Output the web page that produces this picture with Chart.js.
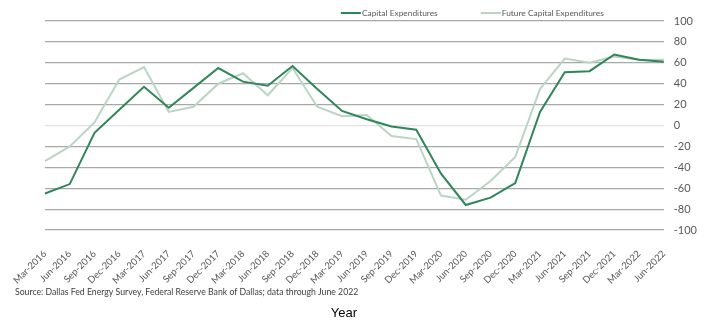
<!DOCTYPE html>
<html>
<head>
<meta charset="utf-8">
<script src="https://cdn.jsdelivr.net/npm/chart.js@4"></script>
<style>
  body { margin: 0; background: #fff; }
  #wrap { width: 711px; height: 322px; position: relative; }
</style>
</head>
<body>
<div id="wrap"><canvas id="chart"></canvas></div>
<script>
// quarterly survey dates
const quarters = ['Mar-2016', 'Jun-2016', 'Sep-2016', 'Dec-2016', 'Mar-2017', 'Jun-2017', 'Sep-2017', 'Dec-2017',
  'Mar-2018', 'Jun-2018', 'Sep-2018', 'Dec-2018', 'Mar-2019', 'Jun-2019', 'Sep-2019', 'Dec-2019',
  'Mar-2020', 'Jun-2020', 'Sep-2020', 'Dec-2020', 'Mar-2021', 'Jun-2021', 'Sep-2021', 'Dec-2021',
  'Mar-2022', 'Jun-2022'];

// index values
const capex = [-65, -56, -7, 15, 37, 17, 36, 55, 42, 38, 57, 35, 14, 6, -1, -4,
  -46, -76, -69, -55, 13, 51, 52, 68, 63, 61];
const futureCapex = [-34, -20, 3, 44, 56, 13, 18, 40, 50, 29, 55, 18, 9, 10, -10, -13,
  -67, -71, -53, -30, 35, 64, 60, 66, 63, 63];

const yMin = -100;
const yMax = 100;
const yStep = 20;

const sourceNote = 'Source: Dallas Fed Energy Survey, Federal Reserve Bank of Dallas; data through June 2022';
const xTitle = 'Year';

const darkGreen = '#2e8659';
const lightGreen = '#bad5c4';
const textGray = '#595959';
const legendFont = '8.4px Lato';

// legend row, source note and axis title sit off-centre in the original,
// so they are drawn here rather than with the built-in legend/title boxes
const chartText = {
  id: 'chartText',
  afterDraw(chart) {
    const c = chart.ctx;
    const sets = chart.data.datasets;
    const sample = 20;
    const gap = 43;
    c.save();
    c.font = legendFont;
    c.textBaseline = 'middle';
    c.textAlign = 'left';
    const widths = sets.map(ds => sample + 1 + c.measureText(ds.label).width);
    const total = widths.reduce((a, b) => a + b, 0) + gap * (sets.length - 1);
    let x = chart.chartArea.right - 60 - total;
    const y = 13;
    sets.forEach((ds, i) => {
      c.strokeStyle = ds.borderColor;
      c.lineWidth = 2;
      c.beginPath();
      c.moveTo(x, y);
      c.lineTo(x + sample, y);
      c.stroke();
      c.fillStyle = textGray;
      c.fillText(ds.label, x + sample + 1, y);
      x += widths[i] + gap;
    });

    c.font = '8.7px Lato';
    c.fillStyle = '#404040';
    c.fillText(sourceNote, 15, 292);

    c.font = '13px "Liberation Sans"';
    c.fillStyle = '#000';
    c.textAlign = 'center';
    c.fillText(xTitle, 344, 313);
    c.restore();
  }
};

const ctx = document.getElementById('chart').getContext('2d');

new Chart(ctx, {
  type: 'line',
  data: {
    labels: quarters,
    datasets: [
      {
        label: 'Capital Expenditures',
        data: capex,
        borderColor: darkGreen,
        backgroundColor: darkGreen,
        borderWidth: 2,
        pointRadius: 0,
        tension: 0
      },
      {
        label: 'Future Capital Expenditures',
        data: futureCapex,
        borderColor: lightGreen,
        backgroundColor: lightGreen,
        borderWidth: 2,
        pointRadius: 0,
        tension: 0
      }
    ]
  },
  plugins: [chartText],
  options: {
    responsive: true,
    maintainAspectRatio: false,
    animation: false,
    layout: {
      padding: { left: 45, right: 4, top: 21, bottom: 36 }
    },
    plugins: {
      legend: { display: false },
      tooltip: { enabled: false }
    },
    scales: {
      x: {
        offset: false,
        grid: { display: false },
        border: { display: false },
        // rotated labels leave spare room under them; give some of it back to the plot
        afterFit: scale => { scale.height -= 10; },
        ticks: {
          color: textGray,
          font: { family: 'Lato', size: 9.5 },
          minRotation: 45,
          maxRotation: 45,
          autoSkip: false,
          padding: 10
        }
      },
      y: {
        position: 'right',
        min: yMin,
        max: yMax,
        border: { display: false },
        grid: {
          drawTicks: false,
          lineWidth: 1.2,
          color: c => c.tick && c.tick.value === 0 ? '#e2e2e2' : '#a8a8a8'
        },
        ticks: {
          stepSize: yStep,
          autoSkip: false,
          color: textGray,
          font: { family: 'Lato', size: 11 },
          padding: 10
        }
      }
    }
  }
});
</script>
</body>
</html>
